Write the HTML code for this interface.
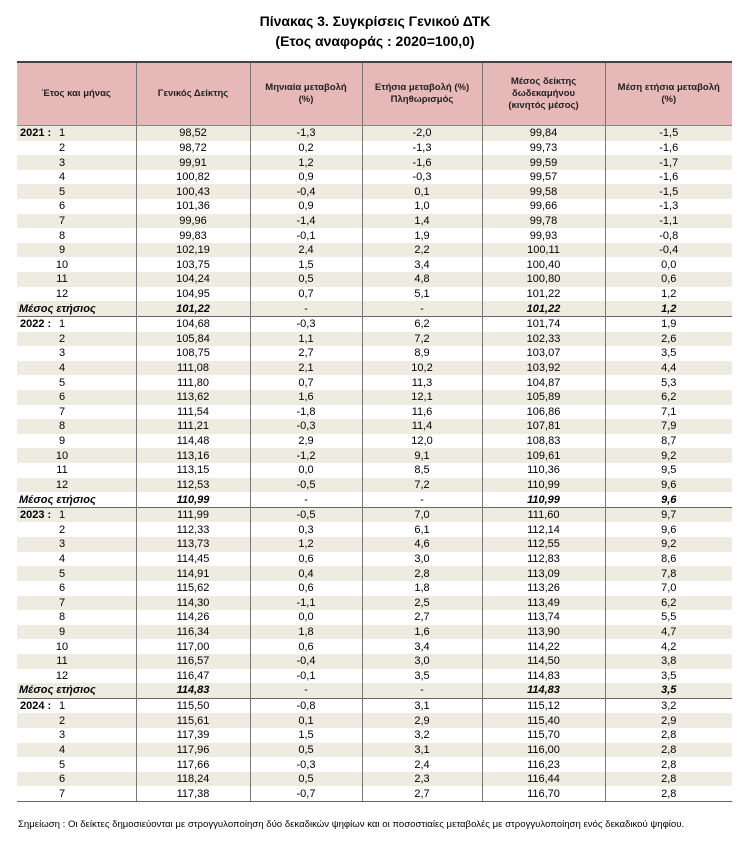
<!DOCTYPE html>
<html><head><meta charset="utf-8">
<style>
body{margin:0;background:#fff;width:750px;height:850px;position:relative;font-family:"Liberation Sans","DejaVu Sans",sans-serif;color:#000}
.t1{position:absolute;top:13px;left:0;width:750px;text-align:center;font-weight:bold;font-size:14px}
.t2{position:absolute;top:33px;left:0;width:750px;text-align:center;font-weight:bold;font-size:14px}
table{position:absolute;left:17px;top:61px;width:715px;border-collapse:collapse;table-layout:fixed;font-size:11px}
th{background:#e6b8b7;height:62px;font-size:9.5px;font-weight:bold;color:#222;border-top:2px solid #444;border-bottom:1px solid #888;border-left:1px solid #777;padding:0 4px;line-height:12px}
th:first-child{border-left:none}
td{height:14.62px;padding:0;text-align:center;border-left:1px solid #777;line-height:12px;white-space:nowrap}
td:first-child{border-left:none;text-align:left;position:relative}
tr:nth-child(even) td{background:#eeece1}
tr.y td{border-top:1.5px solid #666}
tr.last td{border-bottom:1px solid #666}
.m{display:inline-block;width:90px;text-align:center}
.yr{position:absolute;left:3px;top:1px;font-weight:bold}
.bi{font-weight:bold;font-style:italic}
.mn{padding-left:2px}
.note{position:absolute;top:819px;left:18px;font-size:9.6px}
</style></head><body>
<div class="t1">Πίνακας 3. Συγκρίσεις Γενικού ΔΤΚ</div>
<div class="t2">(Ετος αναφοράς : 2020=100,0)</div>
<table>
<colgroup><col style="width:119px"><col style="width:114px"><col style="width:112px"><col style="width:120px"><col style="width:123px"><col style="width:127px"></colgroup>
<tbody>
<tr><th>Έτος και μήνας</th><th>Γενικός Δείκτης</th><th>Μηνιαία μεταβολή<br>(%)</th><th>Ετήσια μεταβολή (%)<br>Πληθωρισμός</th><th>Μέσος δείκτης<br>δωδεκαμήνου<br>(κινητός μέσος)</th><th>Μέση ετήσια μεταβολή<br>(%)</th></tr>
<tr><td><span class="yr">2021 :</span><span class="m">1</span></td><td>98,52</td><td>-1,3</td><td>-2,0</td><td>99,84</td><td>-1,5</td></tr>
<tr><td><span class="m">2</span></td><td>98,72</td><td>0,2</td><td>-1,3</td><td>99,73</td><td>-1,6</td></tr>
<tr><td><span class="m">3</span></td><td>99,91</td><td>1,2</td><td>-1,6</td><td>99,59</td><td>-1,7</td></tr>
<tr><td><span class="m">4</span></td><td>100,82</td><td>0,9</td><td>-0,3</td><td>99,57</td><td>-1,6</td></tr>
<tr><td><span class="m">5</span></td><td>100,43</td><td>-0,4</td><td>0,1</td><td>99,58</td><td>-1,5</td></tr>
<tr><td><span class="m">6</span></td><td>101,36</td><td>0,9</td><td>1,0</td><td>99,66</td><td>-1,3</td></tr>
<tr><td><span class="m">7</span></td><td>99,96</td><td>-1,4</td><td>1,4</td><td>99,78</td><td>-1,1</td></tr>
<tr><td><span class="m">8</span></td><td>99,83</td><td>-0,1</td><td>1,9</td><td>99,93</td><td>-0,8</td></tr>
<tr><td><span class="m">9</span></td><td>102,19</td><td>2,4</td><td>2,2</td><td>100,11</td><td>-0,4</td></tr>
<tr><td><span class="m">10</span></td><td>103,75</td><td>1,5</td><td>3,4</td><td>100,40</td><td>0,0</td></tr>
<tr><td><span class="m">11</span></td><td>104,24</td><td>0,5</td><td>4,8</td><td>100,80</td><td>0,6</td></tr>
<tr><td><span class="m">12</span></td><td>104,95</td><td>0,7</td><td>5,1</td><td>101,22</td><td>1,2</td></tr>
<tr><td class="bi mn">Μέσος ετήσιος</td><td class="bi">101,22</td><td>-</td><td>-</td><td class="bi">101,22</td><td class="bi">1,2</td></tr>
<tr class="y"><td><span class="yr">2022 :</span><span class="m">1</span></td><td>104,68</td><td>-0,3</td><td>6,2</td><td>101,74</td><td>1,9</td></tr>
<tr><td><span class="m">2</span></td><td>105,84</td><td>1,1</td><td>7,2</td><td>102,33</td><td>2,6</td></tr>
<tr><td><span class="m">3</span></td><td>108,75</td><td>2,7</td><td>8,9</td><td>103,07</td><td>3,5</td></tr>
<tr><td><span class="m">4</span></td><td>111,08</td><td>2,1</td><td>10,2</td><td>103,92</td><td>4,4</td></tr>
<tr><td><span class="m">5</span></td><td>111,80</td><td>0,7</td><td>11,3</td><td>104,87</td><td>5,3</td></tr>
<tr><td><span class="m">6</span></td><td>113,62</td><td>1,6</td><td>12,1</td><td>105,89</td><td>6,2</td></tr>
<tr><td><span class="m">7</span></td><td>111,54</td><td>-1,8</td><td>11,6</td><td>106,86</td><td>7,1</td></tr>
<tr><td><span class="m">8</span></td><td>111,21</td><td>-0,3</td><td>11,4</td><td>107,81</td><td>7,9</td></tr>
<tr><td><span class="m">9</span></td><td>114,48</td><td>2,9</td><td>12,0</td><td>108,83</td><td>8,7</td></tr>
<tr><td><span class="m">10</span></td><td>113,16</td><td>-1,2</td><td>9,1</td><td>109,61</td><td>9,2</td></tr>
<tr><td><span class="m">11</span></td><td>113,15</td><td>0,0</td><td>8,5</td><td>110,36</td><td>9,5</td></tr>
<tr><td><span class="m">12</span></td><td>112,53</td><td>-0,5</td><td>7,2</td><td>110,99</td><td>9,6</td></tr>
<tr><td class="bi mn">Μέσος ετήσιος</td><td class="bi">110,99</td><td>-</td><td>-</td><td class="bi">110,99</td><td class="bi">9,6</td></tr>
<tr class="y"><td><span class="yr">2023 :</span><span class="m">1</span></td><td>111,99</td><td>-0,5</td><td>7,0</td><td>111,60</td><td>9,7</td></tr>
<tr><td><span class="m">2</span></td><td>112,33</td><td>0,3</td><td>6,1</td><td>112,14</td><td>9,6</td></tr>
<tr><td><span class="m">3</span></td><td>113,73</td><td>1,2</td><td>4,6</td><td>112,55</td><td>9,2</td></tr>
<tr><td><span class="m">4</span></td><td>114,45</td><td>0,6</td><td>3,0</td><td>112,83</td><td>8,6</td></tr>
<tr><td><span class="m">5</span></td><td>114,91</td><td>0,4</td><td>2,8</td><td>113,09</td><td>7,8</td></tr>
<tr><td><span class="m">6</span></td><td>115,62</td><td>0,6</td><td>1,8</td><td>113,26</td><td>7,0</td></tr>
<tr><td><span class="m">7</span></td><td>114,30</td><td>-1,1</td><td>2,5</td><td>113,49</td><td>6,2</td></tr>
<tr><td><span class="m">8</span></td><td>114,26</td><td>0,0</td><td>2,7</td><td>113,74</td><td>5,5</td></tr>
<tr><td><span class="m">9</span></td><td>116,34</td><td>1,8</td><td>1,6</td><td>113,90</td><td>4,7</td></tr>
<tr><td><span class="m">10</span></td><td>117,00</td><td>0,6</td><td>3,4</td><td>114,22</td><td>4,2</td></tr>
<tr><td><span class="m">11</span></td><td>116,57</td><td>-0,4</td><td>3,0</td><td>114,50</td><td>3,8</td></tr>
<tr><td><span class="m">12</span></td><td>116,47</td><td>-0,1</td><td>3,5</td><td>114,83</td><td>3,5</td></tr>
<tr><td class="bi mn">Μέσος ετήσιος</td><td class="bi">114,83</td><td>-</td><td>-</td><td class="bi">114,83</td><td class="bi">3,5</td></tr>
<tr class="y"><td><span class="yr">2024 :</span><span class="m">1</span></td><td>115,50</td><td>-0,8</td><td>3,1</td><td>115,12</td><td>3,2</td></tr>
<tr><td><span class="m">2</span></td><td>115,61</td><td>0,1</td><td>2,9</td><td>115,40</td><td>2,9</td></tr>
<tr><td><span class="m">3</span></td><td>117,39</td><td>1,5</td><td>3,2</td><td>115,70</td><td>2,8</td></tr>
<tr><td><span class="m">4</span></td><td>117,96</td><td>0,5</td><td>3,1</td><td>116,00</td><td>2,8</td></tr>
<tr><td><span class="m">5</span></td><td>117,66</td><td>-0,3</td><td>2,4</td><td>116,23</td><td>2,8</td></tr>
<tr><td><span class="m">6</span></td><td>118,24</td><td>0,5</td><td>2,3</td><td>116,44</td><td>2,8</td></tr>
<tr class="last"><td><span class="m">7</span></td><td>117,38</td><td>-0,7</td><td>2,7</td><td>116,70</td><td>2,8</td></tr>
</tbody></table>
<div class="note">Σημείωση : Οι δείκτες δημοσιεύονται με στρογγυλοποίηση δύο δεκαδικών ψηφίων και οι ποσοστιαίες μεταβολές με στρογγυλοποίηση ενός δεκαδικού ψηφίου.</div>
</body></html>
